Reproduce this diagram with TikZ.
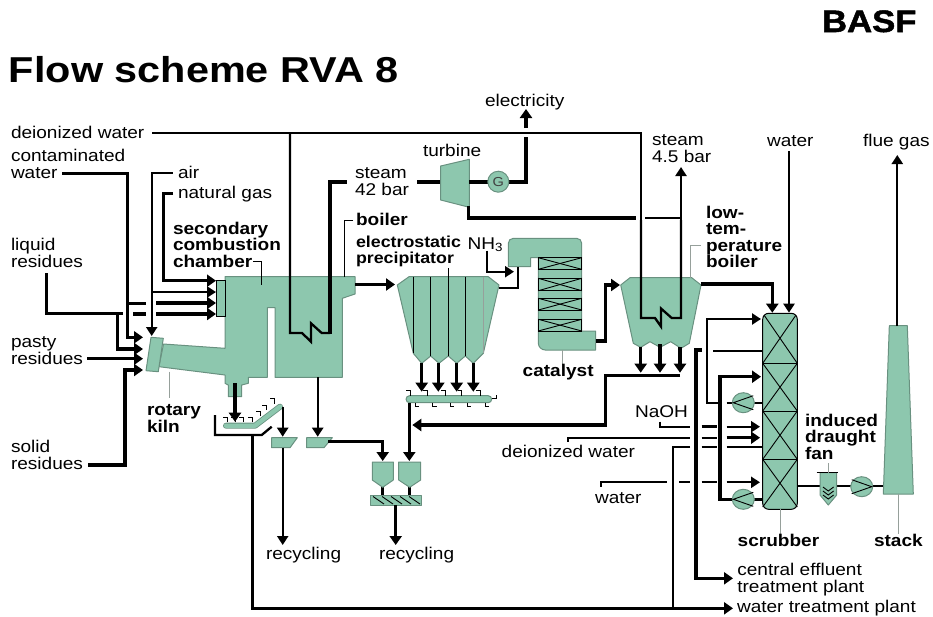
\documentclass[tikz,border=0pt]{standalone}
\usepackage{fontspec}
\setmainfont[FakeStretch=1.12]{Liberation Sans}
\newfontfamily\logofont[FakeStretch=1.12,BoldFeatures={FakeBold=1.6}]{Liberation Sans}
\usetikzlibrary{arrows.meta}
\definecolor{plantgreen}{RGB}{141,199,174}
\definecolor{plantedge}{RGB}{105,145,128}
\definecolor{leadergray}{RGB}{150,160,155}
\tikzset{
	vessel/.style={fill=plantgreen,draw=plantedge,line width=1pt,line join=round},
	heavy/.style={line width=3.4pt,line join=miter},
	medium/.style={line width=2.3pt,line join=miter},
	heavyflow/.style={heavy,-{Triangle[length=9pt,width=12pt]}},
	mediumflow/.style={medium,-{Triangle[length=9pt,width=11pt]}},
	leaderline/.style={line width=0.9pt,draw=leadergray},
	blackleader/.style={line width=0.8pt},
	flight/.style={line width=0.8pt},
	packing/.style={line width=0.9pt},
	plain/.style={inner sep=0pt,outer sep=0pt,anchor=base west,align=left,font=\fontsize{17}{16.3}\selectfont},
	strong/.style={plain,font=\fontsize{17}{16.3}\selectfont\bfseries},
}
\def\pumpleft(#1,#2){\draw[vessel] (#1,#2) ellipse (11 and 10); \draw[packing] (#1+10,#2-7) -- (#1-10,#2) -- (#1+10,#2+7);}
\def\pumpright(#1,#2){\draw[vessel] (#1,#2) ellipse (11 and 10); \draw[packing] (#1-10,#2-7) -- (#1+10,#2) -- (#1-10,#2+7);}
\def\crossbox(#1,#2)(#3,#4){\draw[packing] (#1,#2) rectangle (#3,#4); \draw[packing] (#1,#2) -- (#3,#4); \draw[packing] (#1,#4) -- (#3,#2);}
\def\flightup(#1,#2){\draw[flight] (#1,#2) -- ++(0,-5) -- ++(-4,0);}
\def\flightdown(#1,#2){\draw[flight] (#1,#2) -- ++(0,4) -- ++(4,0);}

\begin{document}
\begin{tikzpicture}[x=1pt,y=-1pt]
		\useasboundingbox (0,0) rectangle (933,616);
		%%%%% START %%%%%
		\node[plain,font=\logofont\fontsize{31}{31}\selectfont\bfseries] (logo) at (822,32) {BASF};
		\node[plain,font=\fontsize{36}{36}\addfontfeature{FakeStretch=1.15}\bfseries] (title) at (9,82) {Flow scheme RVA 8};
		
		% furnace and boiler
		\draw[vessel] (225,276.7) -- (355,276.7) -- (355,294) -- (342.3,298.3) -- (342.3,377.3) -- (275,377.3) -- (275,307.7) -- (267.3,307.7) -- (267.3,377.3) -- (248.3,377.3) -- (248.3,383.3) -- (241.7,385) -- (241.7,396.7) -- (228.3,396.7) -- (228.3,385) -- (225,383.3) -- (225,375) -- (159,366.7) -- (163.5,344) -- (225,348.3) -- cycle;
		\draw[vessel] (151,337.3) -- (163.3,338.3) -- (158.3,371.7) -- (146,370.7) -- cycle;
		\draw[fill=plantgreen,line width=0.8pt] (216.7,280.7) rectangle (225,316.7);
		
		% feeds
		\draw[heavy] (46.7,273.3) -- (46.7,313.3) -- (122.7,313.3);
		\draw[heavy] (133,313.8) -- (145.7,313.8);
		\draw[heavyflow] (156,314) -- (216,314);
		\draw[heavyflow] (117.3,313.3) -- (117.3,349) -- (143,349);
		\draw[heavyflow] (62.3,173.3) -- (127.7,173.3) -- (127.7,337.3) -- (143,337.3);
		\draw[heavy] (127.7,303.3) -- (145.7,303.3);
		\draw[heavyflow] (156,303) -- (216,303);
		\draw[heavyflow] (87.3,358.7) -- (143,358.7);
		\draw[heavyflow] (88.3,465) -- (125,465) -- (125,370) -- (143,370);
		\draw[mediumflow] (172.7,173.3) -- (151.7,173.3) -- (151.7,336);
		\draw[mediumflow] (151.7,292) -- (216,292);
		\draw[heavyflow] (173,193.3) -- (163.3,193.3) -- (163.3,280.7) -- (216,280.7);
		
		% ash line of the kiln
		\draw[heavyflow] (235,383.3) -- (235,421.7);
		\draw[line width=6pt,draw=plantedge,line cap=round,line join=round] (226,425.7) -- (255,425.7) -- (280,406.7);
		\draw[line width=4.4pt,draw=plantgreen,line cap=round,line join=round] (226,425.7) -- (255,425.7) -- (280,406.7);
		\flightup(227,422) \flightup(235,422) \flightup(243,422) \flightup(252,422) \flightup(260,416) \flightup(266,410) \flightup(274,403.5)
		\draw[medium] (215,415) -- (215,435) -- (261.7,435) -- (271.7,426.7);
		\draw[mediumflow] (282.7,406.7) -- (282.7,436.7);
		\draw[vessel] (271.7,437.7) -- (297.3,437.7) -- (290,447.7) -- (271.7,447.7) -- cycle;
		\draw[mediumflow] (282.7,447.7) -- (282.7,545);
		\draw[mediumflow] (317.7,377.3) -- (317.7,436.7);
		\draw[vessel] (306.7,437.7) -- (332.3,437.7) -- (324,447.7) -- (306.7,447.7) -- cycle;
		\draw[heavyflow] (328,441.7) -- (382.7,441.7) -- (382.7,461);
		
		% silos and screw
		\draw[heavy] (382.7,487) -- (382.7,496);
		\draw[heavy] (409.7,487) -- (409.7,496);
		\draw[vessel] (372.3,462) -- (393.3,462) -- (393.3,480) -- (382.7,487.3) -- (372.3,480) -- cycle;
		\draw[vessel] (398.7,462) -- (420.7,462) -- (420.7,480) -- (409.7,487.3) -- (398.7,480) -- cycle;
		\draw[vessel] (370,495.7) rectangle (421.7,505);
		\draw[packing] (373,496.5) -- (384,504) (382,496.5) -- (393,504) (391,496.5) -- (402,504) (400,496.5) -- (411,504) (409,496.5) -- (420,504);
		\draw[heavyflow] (395.7,505) -- (395.7,545);
		
		% steam circuit of the boiler
		\draw[medium] (152,133) -- (641,133) -- (641,220);
		\draw[medium] (290,133) -- (290,333) -- (302,333) -- (311,341.7) -- (311,323.3) -- (321.7,333) -- (330,333);
		\draw[heavy] (330,334) -- (330,182) -- (347,182);
		\draw[heavy] (417,182) -- (441,182);
		\draw[vessel] (440.7,166) -- (469.3,159.3) -- (469.3,207.3) -- (440.7,200) -- cycle;
		\draw[heavy] (469.3,182) -- (526,182) -- (526,137);
		\draw[heavyflow] (526,128) -- (526,109);
		\draw[vessel] (498.3,181.7) circle (10.5);
		\node[plain,anchor=center,font=\fontsize{13}{13}\selectfont,text=black!75] (gen) at (498.3,181.7) {G};
		\draw[heavy] (468.7,206) -- (468.7,218) -- (636,218);
		\draw[medium] (645,218) -- (681,218);
		\draw[mediumflow] (681,220) -- (681,167);
		
		% electrostatic precipitator
		\draw[vessel] (397.3,285) -- (409,276.7) -- (488.3,276.7) -- (499,285) -- (483.3,353.3) -- (473.3,363.3) -- (465.3,356) -- (456.7,363.3) -- (448.3,356) -- (439,363.3) -- (430.7,356) -- (421.7,363.3) -- (413.3,353.3) -- cycle;
		\draw[packing] (413.3,276.7) -- (413.3,353.3);
		\draw[packing] (430.7,276.7) -- (430.7,356);
		\draw[packing] (448.3,268.3) -- (448.3,356);
		\draw[packing] (465.7,276.7) -- (465.7,356);
		\draw[leaderline] (483,276.7) -- (483,353);
		\draw[heavyflow] (355,284.5) -- (395,284.5);
		\draw[heavyflow] (421.7,363.3) -- (421.7,391.7);
		\draw[heavyflow] (438.3,363.3) -- (438.3,391.7);
		\draw[heavyflow] (456.7,363.3) -- (456.7,391.7);
		\draw[heavyflow] (473.3,363.3) -- (473.3,391.7);
		
		% long conveyor
		\draw[vessel,rounded corners=3.5pt] (406,395.7) rectangle (491.7,402.7);
		\flightup(410,395.7) \flightup(427.3,395.7) \flightup(445,395.7) \flightup(461.7,395.7) \flightup(480,395.7)
		\flightdown(415,402.7) \flightdown(432.7,402.7) \flightdown(450,402.7) \flightdown(467.3,402.7) \flightdown(485,402.7)
		\draw[flight] (492,398) -- (496,398) -- (496,395);
		\draw[heavyflow] (409.3,403) -- (409.3,461);
		\draw[heavyflow] (680,375.5) -- (605.7,375.5) -- (605.7,425) -- (412.3,425);
		
		% catalyst
		\draw[vessel] (508.3,250) [rounded corners=5pt] -- (508.3,238.3) -- (581.7,238.3) [sharp corners] -- (581.7,331) -- (595.7,331) -- (595.7,350) [rounded corners=7pt] -- (538.3,350) [sharp corners] -- (538.3,257.7) -- (530.7,257.7) -- (530.7,266.7) -- (508.3,266.7) -- cycle;
		\crossbox(538.3,257.7)(581.7,269.3)
		\crossbox(538.3,278.3)(581.7,290.7)
		\crossbox(538.3,298.3)(581.7,310)
		\crossbox(538.3,319.3)(581.7,331)
		\draw[medium] (499,288.3) -- (518.3,288.3) -- (518.3,266.7);
		\draw[mediumflow] (487.3,250.7) -- (487.3,271.7) -- (514,271.7);
		\draw[heavyflow] (595.7,341) -- (605.7,341) -- (605.7,285) -- (620,285);
		
		% low temperature boiler
		\draw[vessel] (620.7,285) -- (630,277.7) -- (691.7,277.7) -- (701,285) -- (689.3,343.3) -- (681,348.3) -- (670.7,341.7) -- (660,347.3) -- (650,341.7) -- (640.7,347.3) -- (633.3,343.3) -- cycle;
		\draw[medium] (641,220) -- (641,318) -- (655,318) -- (661,326.5) -- (661,308.5) -- (671.7,318) -- (681,318) -- (681,220);
		\draw[heavyflow] (640.7,347) -- (640.7,372.7);
		\draw[heavyflow] (660,344) -- (660,372.7);
		\draw[heavyflow] (680,347) -- (680,372.7);
		\draw[heavyflow] (701,284) -- (772.3,284) -- (772.3,312.7);
		\draw[mediumflow] (789,151) -- (789,312.7);
		
		% scrubber
		\draw[vessel,draw=black,rounded corners=6pt] (762.7,313.3) rectangle (797.3,509.3);
		\draw[packing] (762.7,363.3) -- (797.3,363.3);
		\draw[packing] (762.7,411) -- (797.3,411);
		\draw[packing] (762.7,459.3) -- (797.3,459.3);
		\draw[packing] (764,315) -- (797.3,363.3) (796,315) -- (762.7,363.3);
		\draw[packing] (762.7,363.3) -- (797.3,411) (797.3,363.3) -- (762.7,411);
		\draw[packing] (762.7,411) -- (797.3,459.3) (797.3,411) -- (762.7,459.3);
		\draw[packing] (762.7,459.3) -- (797.3,507) (797.3,459.3) -- (762.7,507);
		\draw[mediumflow] (720,402.7) -- (707.3,402.7) -- (707.3,319) -- (761,319);
		\draw[medium] (726.7,402.7) -- (733,402.7);
		\draw[medium] (754,402.7) -- (762.7,402.7);
		\pumpleft(743.3,402.7)
		\draw[medium] (713.3,350.7) -- (762.7,350.7);
		\draw[heavyflow] (701.7,350) -- (696,350) -- (696,578.3) -- (733,578.3);
		\draw[heavyflow] (733,499.3) -- (720,499.3) -- (720,376.7) -- (761,376.7);
		\draw[heavy] (754,499.3) -- (762.7,499.3);
		\pumpleft(743.3,499.3)
		
		% scrubber feeds
		\draw[medium] (660,421.7) -- (660,426.7) -- (690,426.7);
		\draw[heavy] (701.7,426.7) -- (716.7,426.7);
		\draw[mediumflow] (726.7,426.7) -- (760,426.7);
		\draw[medium] (567.7,441.7) -- (567.7,437.7) -- (690,437.7);
		\draw[medium] (701.7,437.7) -- (716.7,437.7);
		\draw[heavyflow] (726.7,437.7) -- (760,437.7);
		\draw[medium] (601,486.7) -- (601,482.3) -- (666.7,482.3);
		\draw[medium] (679,482.3) -- (690,482.3);
		\draw[medium] (701.7,482.3) -- (716.7,482.3);
		\draw[mediumflow] (726.7,482.3) -- (760,482.3);
		\draw[medium] (690,446.7) -- (673.3,446.7) -- (673.3,608.3);
		\draw[medium] (701.7,446.7) -- (716.7,446.7);
		\draw[medium] (726.7,446.7) -- (763,446.7);
		\draw[heavyflow] (252.7,435) -- (252.7,608.3) -- (733,608.3);
		
		% fan and stack
		\draw[medium] (797.3,486) -- (883,486);
		\draw[vessel] (820,472.7) -- (836.7,472.7) -- (836.7,495) -- (828.3,505) -- (820,495) -- cycle;
		\draw[blackleader] (816.7,472.7) -- (838.3,472.7);
		\draw[packing] (823,487) -- (828.3,491) -- (833.6,487) (823,491) -- (828.3,495) -- (833.6,491) (823,495) -- (828.3,499) -- (833.6,495);
		\pumpright(861.7,486.7)
		\draw[vessel] (889.3,325.7) -- (907.3,325.7) -- (913.3,494) -- (883.3,494) -- cycle;
		\draw[mediumflow] (897.3,325.7) -- (897.3,155);
		
		% leader lines
		\draw[blackleader] (253,261.7) -- (261.7,261.7) -- (261.7,285);
		\draw[blackleader] (353,220) -- (344.3,220) -- (344.3,277);
		\draw[leaderline] (169.3,371.7) -- (169.3,398.3);
		\draw[leaderline] (562.7,350) -- (562.7,365);
		\draw[leaderline] (690,277.7) -- (690,245.7) -- (701,245.7);
		\draw[leaderline] (780,509.3) -- (780,537);
		\draw[leaderline] (828.3,463) -- (828.3,472.7);
		\draw[leaderline] (898.3,494) -- (898.3,534);
		
		% labels
		\node[plain] (electricity) at (485,106) {electricity};
		\node[plain] (deionizedtop) at (11,138) {deionized water};
		\node[plain] (contaminated) at (11,178) {contaminated\\water};
		\node[plain] (air) at (178,178) {air};
		\node[plain] (naturalgas) at (178,198) {natural gas};
		\node[strong] (secondary) at (173,267) {secondary\\combustion\\chamber};
		\node[plain] (liquid) at (11,267) {liquid\\residues};
		\node[plain] (pasty) at (11,364) {pasty\\residues};
		\node[plain] (solid) at (11,469) {solid\\residues};
		\node[strong] (kiln) at (147,432) {rotary\\kiln};
		\node[plain] (steamhigh) at (355,195) {steam\\42 bar};
		\node[plain] (turbine) at (423,156) {turbine};
		\node[strong] (boiler) at (356,225) {boiler};
		\node[strong,font=\fontsize{15.9}{16}\selectfont\bfseries] (esp) at (356,263) {electrostatic\\precipitator};
		\node[plain] (ammonia) at (467.7,249) {NH\textsubscript{3}};
		\node[strong] (catalyst) at (522.7,376) {catalyst};
		\node[plain] (steamlow) at (652,162) {steam\\4.5 bar};
		\node[plain] (watertop) at (767,146) {water};
		\node[plain] (fluegas) at (863,146) {flue gas};
		\node[strong] (lowboiler) at (706,267.3) {low-\\tem-\\perature\\boiler};
		\node[plain] (naoh) at (635,417.3) {NaOH};
		\node[plain] (deionizedlow) at (501.7,457.7) {deionized water};
		\node[plain] (waterlow) at (595,503) {water};
		\node[strong] (fan) at (805,459) {induced\\draught\\fan};
		\node[strong] (scrubber) at (737.7,546.7) {scrubber};
		\node[strong] (stack) at (874,546.7) {stack};
		\node[plain] (recyclingone) at (266,559) {recycling};
		\node[plain] (recyclingtwo) at (379,559) {recycling};
		\node[plain] (effluent) at (737.3,592) {central effluent\\treatment plant};
		\node[plain] (treatment) at (737,612) {water treatment plant};
		%%%%% END %%%%%
	\end{tikzpicture}
\end{document}
